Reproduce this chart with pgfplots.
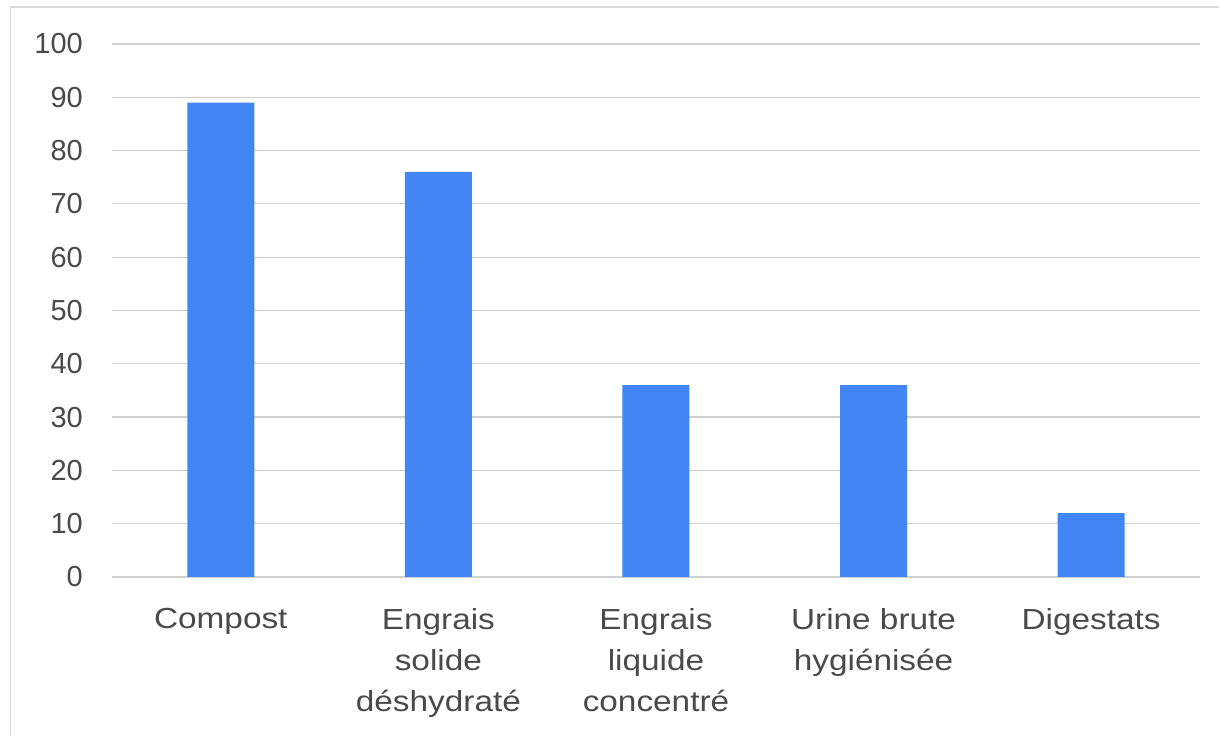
\documentclass[border=0pt]{standalone}
\usepackage{pgfplots}
\pgfplotsset{compat=1.18}
\usepackage{fontspec}
\setmainfont{Liberation Sans}
\newfontfamily\catfont[FakeStretch=1.15]{Liberation Sans}
\definecolor{barblue}{HTML}{4285F4}
\definecolor{gridgray}{HTML}{D0D0D0}
\definecolor{txtgray}{HTML}{4A4A4A}
\definecolor{framegray}{HTML}{D9D9D9}
\begin{document}
\begin{tikzpicture}[x=1pt,y=1pt]
\useasboundingbox (0,0) rectangle (1219,736);
\fill[white] (0,0) rectangle (1219,736);
\draw[framegray, line width=1.5pt] (10.5,0) -- (10.5,729) -- (1219,729);
\begin{axis}[
  scale only axis,
  width=1088pt, height=533pt,
  at={(112pt,159pt)}, anchor=south west,
  ymin=0, ymax=100,
  xmin=-0.5, xmax=4.5,
  ytick={0,10,...,100},
  xtick={0,1,2,3,4},
  xticklabels={Compost,{Engrais\\solide\\déshydraté},{Engrais\\liquide\\concentré},{Urine brute\\hygiénisée},Digestats},
  axis line style={draw=none},
  major tick length=0pt,
  ymajorgrids,
  grid style={gridgray, line width=1.2pt},
  /pgf/number format/assume math mode=true,
  yticklabel style={font=\fontsize{29}{34}\selectfont, text=txtgray, inner sep=0pt, anchor=east, xshift=-29pt},
  xticklabel style={font=\catfont\fontsize{29}{41}\selectfont, text=txtgray, inner sep=0pt, anchor=north, align=center, yshift=-31pt},
  clip=false,
]
\addplot[ybar, bar width=67pt, fill=barblue, draw=none] coordinates {(0,89) (1,76) (2,36) (3,36) (4,12)};
\end{axis}
\end{tikzpicture}
\end{document}
